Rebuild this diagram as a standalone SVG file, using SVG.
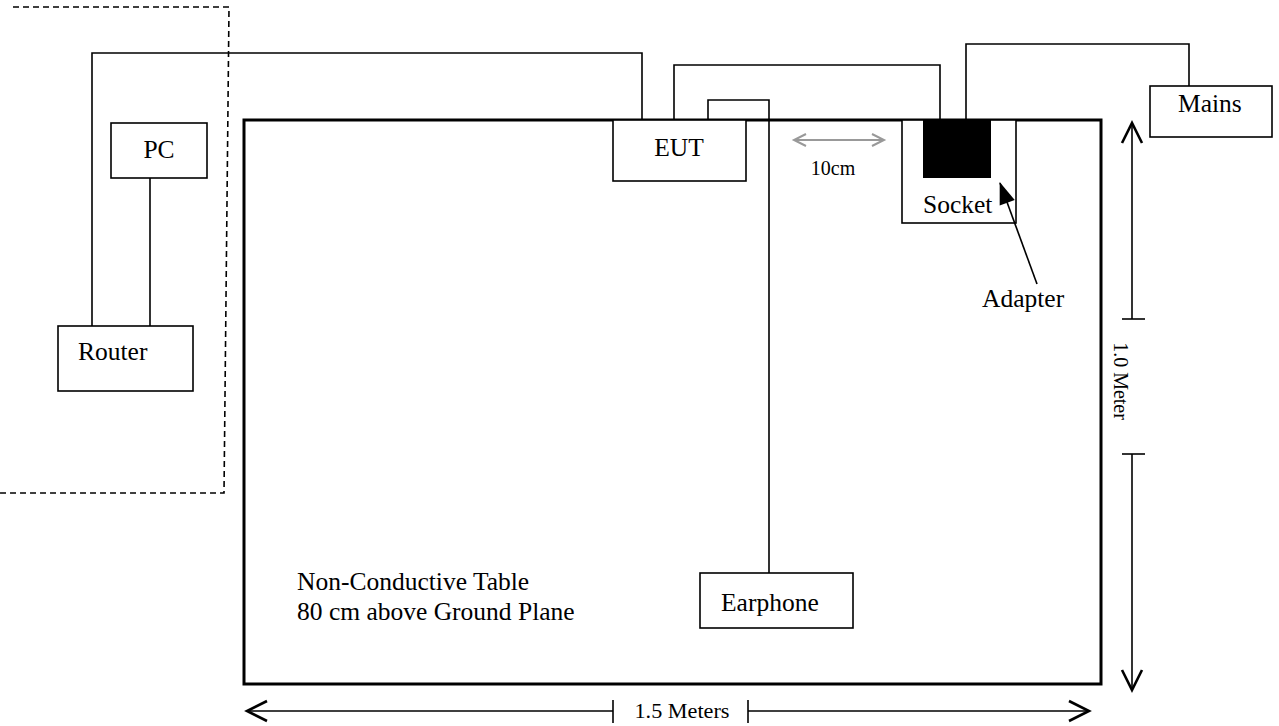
<svg xmlns="http://www.w3.org/2000/svg" width="1279" height="726" viewBox="0 0 1279 726">
<style>
.box{fill:#fff;stroke:#000;stroke-width:1.6}
.w{fill:none;stroke:#000;stroke-width:1.6}
.d{stroke:#000;stroke-width:1.6}
.t{font-family:"Liberation Serif",serif;font-size:25.5px;fill:#000}
.s{font-family:"Liberation Serif",serif;font-size:20px;fill:#000}
</style>
<defs>
<marker id="ah" viewBox="0 0 22 22" refX="21" refY="11" markerWidth="22" markerHeight="22" markerUnits="userSpaceOnUse" orient="auto" overflow="visible">
<path d="M1,1 L21,11 L1,21" fill="none" stroke="#000" stroke-width="2.6"/>
</marker>
<marker id="gh" viewBox="0 0 14 14" refX="13" refY="7" markerWidth="14" markerHeight="14" markerUnits="userSpaceOnUse" orient="auto" overflow="visible">
<path d="M1,1 L13,7 L1,13" fill="none" stroke="#999" stroke-width="2"/>
</marker>
<marker id="fh" viewBox="0 0 22 16" refX="21" refY="8" markerWidth="22" markerHeight="16" markerUnits="userSpaceOnUse" orient="auto" overflow="visible">
<path d="M0,0 L22,8 L0,16 Z" fill="#000"/>
</marker>
</defs>
<path d="M13,7 H229 L224,493 H0" fill="none" stroke="#000" stroke-width="1.6" stroke-dasharray="6,4"/>
<g id="table">
<rect x="244" y="120" width="857" height="564" fill="none" stroke="#000" stroke-width="3"/>
<text class="t" x="297" y="590">Non-Conductive Table</text>
<text class="t" x="297" y="620">80 cm above Ground Plane</text>
</g>
<g id="connectors">
<path class="w" d="M92,326 V53 H642 V120"/>
<path class="w" d="M150,178 V326"/>
<path class="w" d="M674,120 V65 H940 V120"/>
<path class="w" d="M708,120 V100 H769 V573"/>
<path class="w" d="M966,120 V44 H1189 V86"/>
</g>
<g id="pc"><rect class="box" x="111" y="123" width="96" height="55"/><text class="t" x="159" y="158" text-anchor="middle">PC</text></g>
<g id="router"><rect class="box" x="58" y="326" width="135" height="65"/><text class="t" x="78" y="360">Router</text></g>
<g id="eut"><rect class="box" x="613" y="120" width="133" height="61"/><text class="t" x="679" y="156" text-anchor="middle">EUT</text></g>
<g id="socket"><rect class="box" x="902" y="120" width="114" height="103"/><rect x="923" y="120" width="68" height="58" fill="#000"/><text class="t" x="923" y="213">Socket</text></g>
<g id="mains"><rect class="box" x="1150" y="86" width="122" height="51"/><text class="t" x="1178" y="112">Mains</text></g>
<g id="earphone"><rect class="box" x="700" y="573" width="153" height="55"/><text class="t" x="721" y="611">Earphone</text></g>
<g id="adapter">
<line x1="1037" y1="284" x2="1000" y2="183" stroke="#000" stroke-width="1.6" marker-end="url(#fh)"/>
<text class="t" x="982" y="307">Adapter</text>
</g>
<g id="dim10">
<line x1="838" y1="140" x2="884" y2="140" stroke="#999" stroke-width="1.8" marker-end="url(#gh)"/>
<line x1="838" y1="140" x2="794" y2="140" stroke="#999" stroke-width="1.8" marker-end="url(#gh)"/>
<text class="s" x="833" y="175" text-anchor="middle">10cm</text>
</g>
<g id="dimV">
<line class="d" x1="1132" y1="319" x2="1132" y2="123" marker-end="url(#ah)"/>
<line class="d" x1="1122" y1="319" x2="1145" y2="319"/>
<line class="d" x1="1132" y1="454" x2="1132" y2="690" marker-end="url(#ah)"/>
<line class="d" x1="1122" y1="454" x2="1145" y2="454"/>
<text class="s" x="0" y="0" text-anchor="middle" transform="translate(1114,381) rotate(90)">1.0 Meter</text>
</g>
<g id="dimH">
<line class="d" x1="613" y1="711" x2="247" y2="711" marker-end="url(#ah)"/>
<line class="d" x1="613" y1="700" x2="613" y2="723"/>
<line class="d" x1="748" y1="711" x2="1089" y2="711" marker-end="url(#ah)"/>
<line class="d" x1="748" y1="700" x2="748" y2="723"/>
<text class="s" x="682" y="718" text-anchor="middle" textLength="95" lengthAdjust="spacingAndGlyphs">1.5 Meters</text>
</g>
</svg>
